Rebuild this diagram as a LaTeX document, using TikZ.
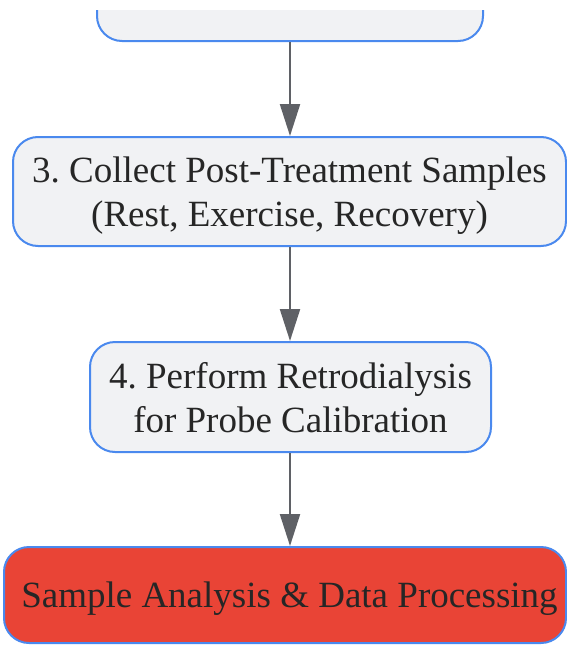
\documentclass[tikz,border=0pt]{standalone}
\usepackage{fontspec}
\setmainfont{Liberation Serif}
\usepackage{xcolor}
\usepackage{tikz}
\usetikzlibrary{arrows.meta}
\frenchspacing

\definecolor{boxfill}{HTML}{F1F2F4}
\definecolor{boxline}{HTML}{4A89EE}
\definecolor{endfill}{HTML}{E94436}
\definecolor{arrowgray}{HTML}{5F6166}
\definecolor{textdark}{HTML}{262626}

\begin{document}
\begin{tikzpicture}[x=1pt, y=1pt]
  \tikzstyle{stepbox} = [rectangle, rounded corners=25pt, draw=boxline, line width=2pt,
                         fill=boxfill, text=textdark, align=center, inner sep=0pt,
                         text depth=-4pt, font=\fontsize{37}{44}\selectfont]
  \tikzstyle{endbox} = [stepbox, fill=endfill]
  \tikzstyle{edge} = [-{Triangle[length=32pt, width=20pt]}, line width=2.2pt, draw=arrowgray, fill=arrowgray]

  \useasboundingbox (0,0) rectangle (567,-645);

  \begin{scope}
    \clip (0,-10) rectangle (567,-645);
    \node[stepbox, minimum width=386pt, minimum height=110pt] (s2) at (290,14) {};
  \end{scope}

  \node[stepbox, minimum width=553pt, minimum height=109pt] (s3) at (289.5,-191.5)
    {3. Collect Post-Treatment Samples\\(Rest, Exercise, Recovery)};
  \node[stepbox, minimum width=401pt, minimum height=110pt] (s4) at (290.5,-397)
    {4. Perform Retrodialysis\\for Probe Calibration};
  \node[endbox, minimum width=562pt, minimum height=96pt, text depth=-6pt] (s5) at (285,-595)
    {\hspace*{9pt}Sample Analysis \& Data Processing};

  \draw[edge] (s2.south) -- (s3.north -| s2.south);
  \draw[edge] (s3.south -| s2.south) -- (s4.north -| s2.south);
  \draw[edge] (s4.south -| s2.south) -- (s5.north -| s2.south);
\end{tikzpicture}
\end{document}
